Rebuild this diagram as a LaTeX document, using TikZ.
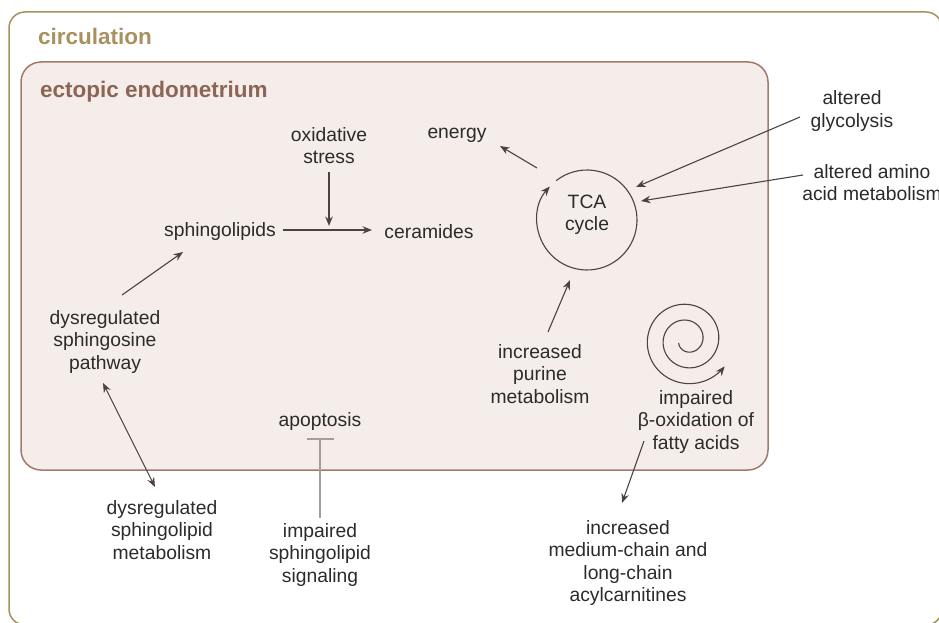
\documentclass[tikz,border=0pt]{standalone}
\usepackage{fontspec}
\setmainfont{Liberation Sans}
\usetikzlibrary{arrows.meta,calc}
\definecolor{circcol}{HTML}{A8915F}
\definecolor{endoline}{HTML}{A27A6B}
\definecolor{endofill}{HTML}{F5EDEA}
\definecolor{endotext}{HTML}{8C6556}
\definecolor{txt}{HTML}{2B2B2B}
\definecolor{arrcol}{HTML}{4E4240}
\definecolor{inhcol}{HTML}{A89C98}
\begin{document}
\begin{tikzpicture}[x=1pt,y=-1pt,
  lbl/.style={font=\fontsize{19.3}{22.2}\selectfont, text=txt, align=center, inner sep=2pt},
  ttl/.style={font=\fontsize{22.5}{26}\selectfont\bfseries, anchor=west, inner sep=0pt},
  arr/.style={draw=arrcol, line width=1.1pt, -{Stealth[length=9.5pt,width=7.5pt]}},
  darr/.style={draw=arrcol, line width=1.1pt, {Stealth[length=9.5pt,width=7.5pt]}-{Stealth[length=9.5pt,width=7.5pt]}},
  inh/.style={draw=inhcol, line width=1.5pt, -{Bar[width=27pt,line width=1.5pt]}}]
\useasboundingbox (0,0) rectangle (939,623);
\begin{scope}
  \clip (0,0) rectangle (939,623);
  \draw[circcol, line width=1.5pt, rounded corners=16pt] (9,12) rectangle (942,625);
\end{scope}
\draw[endoline, fill=endofill, line width=1.5pt, rounded corners=20pt] (21,62) rectangle (768,470);

\node[ttl, text=circcol] (circ) at (38,36) {circulation};
\node[ttl, text=endotext] (ecto) at (40,92) {ectopic endometrium};

\node[lbl] (oxs) at (329,146) {oxidative\\stress};
\node[lbl] (energy) at (457,135) {energy};
\node[lbl] (sphingo) at (220,232) {sphingolipids};
\node[lbl] (cer) at (429,232) {ceramides};
\node[lbl] (tca) at (587,215) {TCA\\cycle};
\coordinate (tcac) at (587,220);
\node[lbl] (glyc) at (852,111) {altered\\glycolysis};
\node[lbl] (amino) at (872,183) {altered amino\\acid metabolism};
\node[lbl] (purine) at (540,374) {increased\\purine\\metabolism};
\node[lbl] (beta) at (696,422) {impaired\\β-oxidation of\\fatty acids};
\node[lbl] (apop) at (320,422) {apoptosis};
\node[lbl] (impsig) at (320,555) {impaired\\sphingolipid\\signaling};
\node[lbl] (dsp) at (105,342) {dysregulated\\sphingosine\\pathway};
\node[lbl] (dsm) at (162,530) {dysregulated\\sphingolipid\\metabolism};
\node[lbl] (acyl) at (628,563) {increased\\medium-chain and\\long-chain\\acylcarnitines};

% connector end points
\coordinate (dspA) at (122,295);
\coordinate (sphA) at (183,252);
\coordinate (sphB) at (283,230);
\coordinate (cerA) at (372,230);
\coordinate (oxA) at (329,172);
\coordinate (oxB) at (329,226);
\coordinate (enA) at (537,168);
\coordinate (enB) at (500,146);
\coordinate (glA) at (800,117);
\coordinate (glB) at (636,187);
\coordinate (amA) at (803,175);
\coordinate (amB) at (641,201);
\coordinate (puA) at (548,332);
\coordinate (puB) at (570,280);
\coordinate (dspB) at (103,383);
\coordinate (dsmA) at (155,487);
\coordinate (apA) at (320,518);
\coordinate (apB) at (320,438);
\coordinate (beA) at (644,441);
\coordinate (beB) at (622,503);

\draw[arr] (dspA) -- (sphA);
\draw[arr] (sphB) -- (cerA);
\draw[arr] (oxA) -- (oxB);
\draw[arr] (enA) -- (enB);
\draw[arr] (glA) -- (glB);
\draw[arr] (amA) -- (amB);
\draw[arr] (puA) -- (puB);
\draw[darr] (dspB) -- (dsmA);
\draw[inh] (apA) -- (apB);
\draw[arr] (beA) -- (beB);

% TCA cycle circle
\draw[arr] ($(tcac)+(-128:50)$) arc[start angle=-128, end angle=222, radius=50];

% spiral
\draw[arr] plot[domain=200:1045, samples=300, smooth, variable=\t]
  ({687+0.044*\t*cos(\t)}, {340-0.044*\t*sin(\t)});
\end{tikzpicture}
\end{document}
